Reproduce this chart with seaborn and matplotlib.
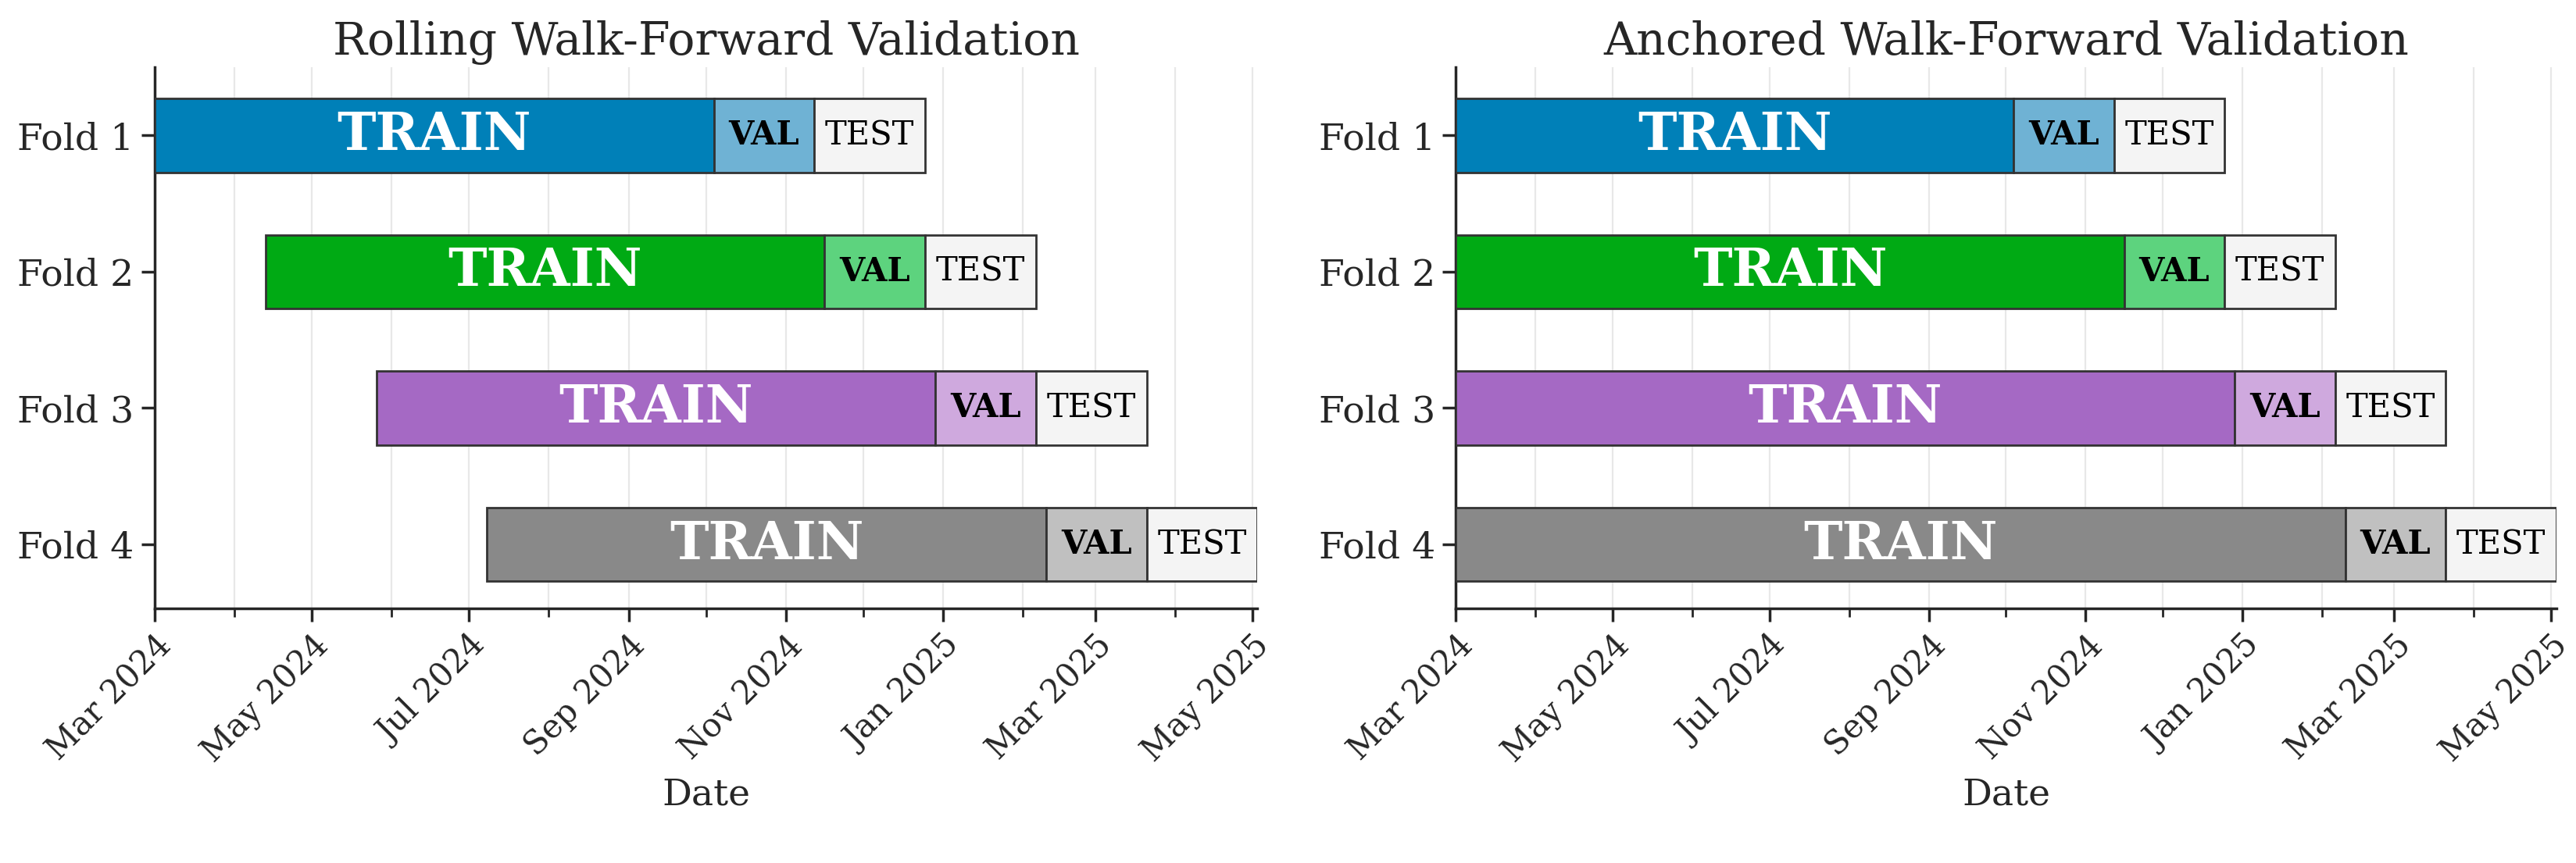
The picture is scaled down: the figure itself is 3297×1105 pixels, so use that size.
import pandas as pd
import matplotlib
matplotlib.use("Agg")
import matplotlib.pyplot as plt
import matplotlib.dates as mdates
import seaborn as sns

sns.set_theme(style="ticks")
plt.rcParams['font.family'] = ['DejaVu Serif']

folds = ["Fold 1", "Fold 2", "Fold 3", "Fold 4"]
rolling_train_start = ["2024-03-01", "2024-04-13", "2024-05-26", "2024-07-08"]
anchored_train_start = ["2024-03-01", "2024-03-01", "2024-03-01", "2024-03-01"]
train_end = ["2024-10-04", "2024-11-16", "2024-12-29", "2025-02-10"]
val_end = ["2024-11-12", "2024-12-25", "2025-02-06", "2025-03-21"]
test_end = ["2024-12-25", "2025-02-06", "2025-03-21", "2025-05-03"]

train_colors = ["#0080b8", "#00aa14", "#a569c4", "#898989"]
val_colors = ["#6fb2d4", "#5dd37e", "#cfa9de", "#c0c0c0"]
test_color = "#f4f4f4"

fig = plt.figure(figsize=(16.49, 5.525), dpi=200)
ax1 = fig.add_axes([0.06, 0.295, 0.428, 0.627])
ax2 = fig.add_axes([0.565, 0.295, 0.427, 0.627])

def draw(ax, starts, title):
    h = 0.54
    for i, f in enumerate(folds):
        s = pd.Timestamp(starts[i]); t = pd.Timestamp(train_end[i])
        v = pd.Timestamp(val_end[i]); e = pd.Timestamp(test_end[i])
        segs = [(s, t, train_colors[i]), (t, v, val_colors[i]), (v, e, test_color)]
        for a, b, c in segs:
            ax.barh(i, mdates.date2num(b) - mdates.date2num(a), left=mdates.date2num(a),
                    height=h, color=c, edgecolor="#333333", linewidth=1.0, zorder=3)
        mid = lambda a, b: mdates.date2num(a) + (mdates.date2num(b) - mdates.date2num(a)) / 2
        ax.text(mid(s, t), i, "TRAIN", color="white", fontsize=24, fontweight="bold",
                ha="center", va="center", zorder=4)
        ax.text(mid(t, v), i, "VAL", color="black", fontsize=15, fontweight="bold",
                ha="center", va="center", zorder=4)
        ax.text(mid(v, e), i, "TEST", color="black", fontsize=15,
                ha="center", va="center", zorder=4)
    ax.set_yticks(range(len(folds)))
    ax.set_yticklabels(folds, fontsize=17)
    ax.set_ylim(3.47, -0.5)
    ax.set_xlim(mdates.date2num(pd.Timestamp("2024-03-01")), mdates.date2num(pd.Timestamp("2025-05-03")))
    ax.xaxis.set_major_locator(mdates.MonthLocator(bymonth=[1, 3, 5, 7, 9, 11]))
    ax.xaxis.set_minor_locator(mdates.MonthLocator())
    ax.xaxis.set_major_formatter(mdates.DateFormatter("%b %Y"))
    ax.tick_params(axis="x", which="major", labelsize=15, length=6)
    ax.tick_params(axis="x", which="minor", length=4)
    for lbl in ax.get_xticklabels():
        lbl.set_rotation(45); lbl.set_ha("right"); lbl.set_rotation_mode("anchor")
    ax.grid(axis="x", which="both", color="#e8e8e8", linewidth=0.8, zorder=0)
    ax.set_axisbelow(True)
    sns.despine(ax=ax)
    ax.set_xlabel("Date", fontsize=17)
    ax.set_title(title, fontsize=21)

draw(ax1, rolling_train_start, "Rolling Walk-Forward Validation")
draw(ax2, anchored_train_start, "Anchored Walk-Forward Validation")

fig.savefig("out.png", dpi=200)
